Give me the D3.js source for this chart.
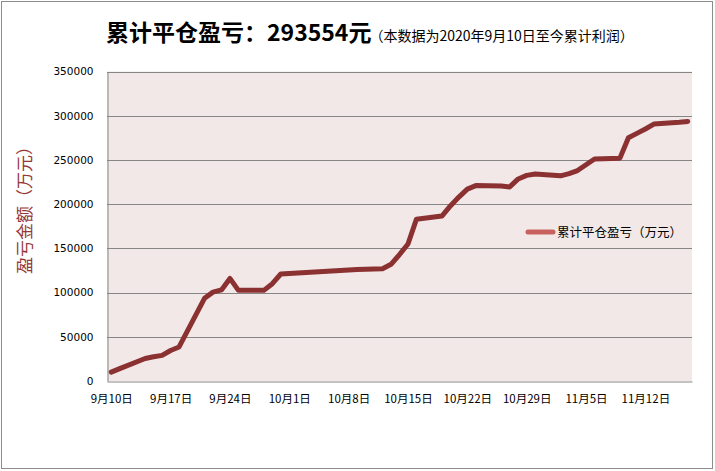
<!DOCTYPE html>
<html>
<head>
<meta charset="utf-8">
<script src="https://cdn.jsdelivr.net/npm/d3@7"></script>
<style>
  html, body { margin: 0; padding: 0; background: #fff; }
  svg { display: block; }
</style>
</head>
<body>
<svg id="chart" width="715" height="471"></svg>
<script>
// ---- data ----
const dates = ["2020-09-10","2020-09-11","2020-09-14","2020-09-15","2020-09-16","2020-09-17","2020-09-18",
  "2020-09-21","2020-09-22","2020-09-23","2020-09-24","2020-09-25","2020-09-28","2020-09-29","2020-09-30",
  "2020-10-09","2020-10-12","2020-10-13","2020-10-14","2020-10-15","2020-10-16",
  "2020-10-19","2020-10-20","2020-10-21","2020-10-22","2020-10-23",
  "2020-10-26","2020-10-27","2020-10-28","2020-10-29","2020-10-30",
  "2020-11-02","2020-11-03","2020-11-04","2020-11-05","2020-11-06",
  "2020-11-09","2020-11-10","2020-11-11","2020-11-12","2020-11-13",
  "2020-11-16","2020-11-17"];
const profit = [10000,14000,25500,27500,29000,34500,38500,
  93500,100500,103000,116000,102500,102500,110000,121000,
  126000,127000,132000,143000,155000,183000,
  186500,198000,208000,217000,221000,
  220500,219500,228500,232500,234000,
  232000,234500,238000,244500,251000,
  252000,275000,280000,285000,290500,
  292500,293554];
const yTicks = [0,50000,100000,150000,200000,250000,300000,350000];
const xTickDates = ["2020-09-10","2020-09-17","2020-09-24","2020-10-01","2020-10-08","2020-10-15","2020-10-22","2020-10-29","2020-11-05","2020-11-12"];
const xTickLabels = ["9月10日","9月17日","9月24日","10月1日","10月8日","10月15日","10月22日","10月29日","11月5日","11月12日"];
const titleMain = "累计平仓盈亏：293554元";
const titleSub = "（本数据为2020年9月10日至今累计利润）";
const yTitle = "盈亏金额（万元）";
const seriesName = "累计平仓盈亏（万元）";

// ---- layout ----
const svg = d3.select("#chart");
const L = 107, R = 692, T = 71.5, B = 381;
const parse = d3.utcParse("%Y-%m-%d");
const DAY = 86400000;
const x = d3.scaleUtc()
  .domain([parse("2020-09-10"), parse("2020-11-18")])
  .range([L, R]);
const xc = s => x(new Date(parse(s).getTime() + DAY / 2));
const y = d3.scaleLinear().domain([0, 350000]).range([B, T]);

// outer border
svg.append("rect").attr("x", 1.5).attr("y", 1.5).attr("width", 711).attr("height", 467)
  .attr("fill", "#fff").attr("stroke", "#8c8c8c").attr("stroke-width", 1);

// plot background
svg.append("rect").attr("x", L).attr("y", T).attr("width", R - L).attr("height", B - T)
  .attr("fill", "#f2e8e8");

// gridlines
svg.append("g").selectAll("line").data(yTicks.filter(v => v > 0)).join("line")
  .attr("x1", L).attr("x2", R)
  .attr("y1", d => Math.round(y(d)) + 0.5).attr("y2", d => Math.round(y(d)) + 0.5)
  .attr("stroke", "#868686").attr("stroke-width", 1);

// y axis
const yAxis = svg.append("g").attr("transform", `translate(${L + 0.5},0)`)
  .call(d3.axisLeft(y).tickValues(yTicks).tickSize(0).tickPadding(14).tickFormat(d3.format("d")));
yAxis.select(".domain").attr("stroke", "#868686");
yAxis.selectAll("text").attr("font-family", "DejaVu Sans").attr("font-size", "10.5px").attr("fill", "#000");

// x axis
const xAxis = svg.append("g").attr("transform", `translate(0,${B + 0.5})`)
  .call(d3.axisBottom(x)
    .tickValues(xTickDates.map(s => new Date(parse(s).getTime() + DAY / 2)))
    .tickSize(0).tickPadding(13)
    .tickFormat((d, i) => xTickLabels[i]));
xAxis.select(".domain").attr("stroke", "#868686");
xAxis.selectAll("text").attr("font-family", "Noto Sans CJK SC").attr("font-size", "11.5px").attr("fill", "#000");

// line
const line = d3.line().x((d, i) => xc(dates[i])).y(d => y(d));
svg.append("path").datum(profit)
  .attr("d", line)
  .attr("fill", "none").attr("stroke", "#8b3131").attr("stroke-width", 5)
  .attr("stroke-linejoin", "round").attr("stroke-linecap", "round");

// legend
svg.append("line").attr("x1", 528).attr("x2", 553).attr("y1", 232).attr("y2", 232)
  .attr("stroke", "#c8625e").attr("stroke-width", 5).attr("stroke-linecap", "round");
svg.append("text").attr("x", 557).attr("y", 236.5)
  .attr("font-family", "Noto Sans CJK SC").attr("font-size", "12.5px").attr("fill", "#000")
  .text(seriesName);

// title
const t = svg.append("text").attr("x", 106).attr("y", 41).attr("font-family", "Noto Sans CJK SC");
t.append("tspan").attr("font-size", "23px").attr("font-weight", "bold").attr("fill", "#000").text(titleMain);
t.append("tspan").attr("font-size", "14px").attr("fill", "#000").attr("dx", -2).text(titleSub);

// y title
svg.append("text")
  .attr("transform", "translate(31,206) rotate(-90)")
  .attr("text-anchor", "middle")
  .attr("font-family", "Noto Sans CJK SC").attr("font-size", "17px").attr("fill", "#953735")
  .text(yTitle);
</script>
</body>
</html>
